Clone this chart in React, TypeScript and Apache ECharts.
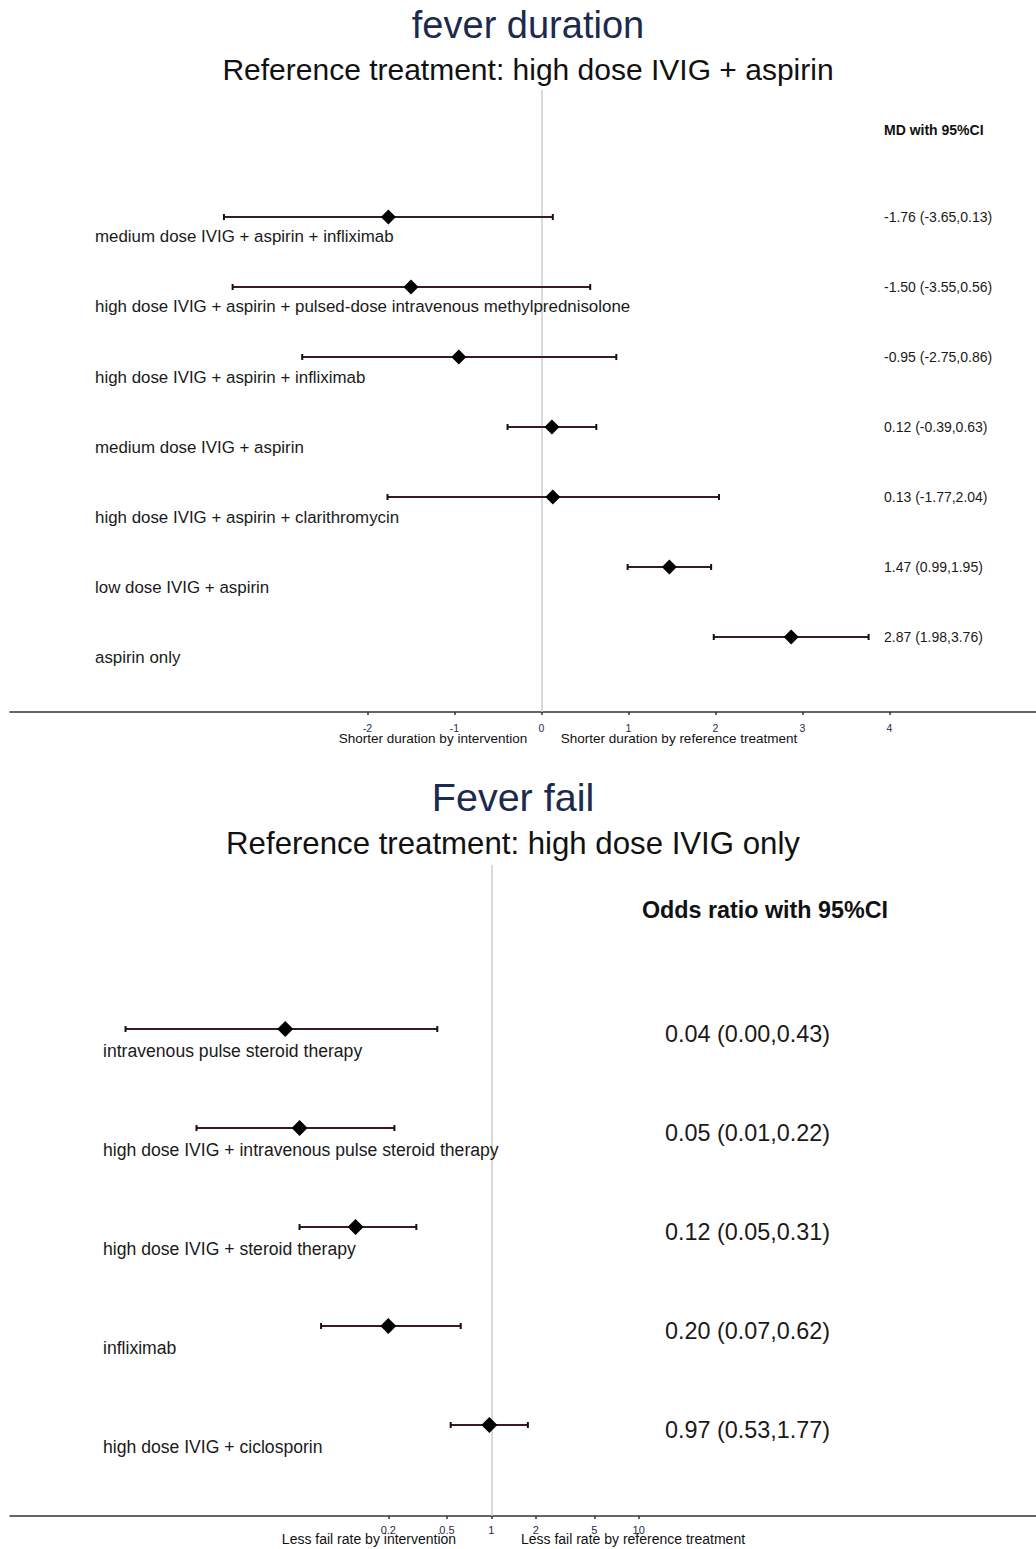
import { useEffect, useRef } from "react";
import * as echarts from "echarts";

// ---------- Data: fever duration (mean difference) ----------
const durationRows = [
  "medium dose IVIG + aspirin + infliximab",
  "high dose IVIG + aspirin + pulsed-dose intravenous methylprednisolone",
  "high dose IVIG + aspirin + infliximab",
  "medium dose IVIG + aspirin",
  "high dose IVIG + aspirin + clarithromycin",
  "low dose IVIG + aspirin",
  "aspirin only",
];
const durationMD = [-1.76, -1.5, -0.95, 0.12, 0.13, 1.47, 2.87];
const durationLow = [-3.65, -3.55, -2.75, -0.39, -1.77, 0.99, 1.98];
const durationHigh = [0.13, 0.56, 0.86, 0.63, 2.04, 1.95, 3.76];
const durationTicks = [-2, -1, 0, 1, 2, 3, 4];

// ---------- Data: fever fail (odds ratio) ----------
const failRows = [
  "intravenous pulse steroid therapy",
  "high dose IVIG + intravenous pulse steroid therapy",
  "high dose IVIG + steroid therapy",
  "infliximab",
  "high dose IVIG + ciclosporin",
];
const failOR = [0.04, 0.05, 0.12, 0.2, 0.97];
const failLow = [0.0033, 0.01, 0.05, 0.07, 0.53]; // first shown as 0.00
const failHigh = [0.43, 0.22, 0.31, 0.62, 1.77];
const failTicks = [0.2, 0.5, 1, 2, 5, 10];

const FONT = "'Liberation Sans', Arial, Helvetica, sans-serif";
const BAR = "#3b1a26";

const fmt = (v: number) => v.toFixed(2);

function makeRender(
  names: string[],
  est: number[],
  lo: number[],
  hi: number[],
  o: { labelX: number; labelDy: number; labelSize: number; valX: number; valDy: number; valSize: number; half: number }
) {
  return (params: any, api: any) => {
    const idx = params.dataIndex;
    const row = api.value(0);
    const pE = api.coord([api.value(1), row]);
    const pL = api.coord([api.value(2), row]);
    const pH = api.coord([api.value(3), row]);
    const y = pE[1];
    const h = o.half;
    return {
      type: "group",
      children: [
        { type: "line", shape: { x1: pL[0], y1: y, x2: pH[0], y2: y }, style: { stroke: BAR, lineWidth: 2 } },
        { type: "line", shape: { x1: pL[0], y1: y - 3, x2: pL[0], y2: y + 3 }, style: { stroke: "#111", lineWidth: 2 } },
        { type: "line", shape: { x1: pH[0], y1: y - 3, x2: pH[0], y2: y + 3 }, style: { stroke: "#111", lineWidth: 2 } },
        {
          type: "polygon",
          shape: { points: [[pE[0], y - h], [pE[0] + h, y], [pE[0], y + h], [pE[0] - h, y]] },
          style: { fill: "#000" },
        },
        {
          type: "text",
          x: o.labelX,
          y: y + o.labelDy,
          style: {
            text: names[idx],
            fontSize: o.labelSize,
            fontFamily: FONT,
            fill: "#1a1a1a",
            align: "left",
            verticalAlign: "middle",
          },
        },
        {
          type: "text",
          x: o.valX,
          y: y + o.valDy,
          style: {
            text: `${fmt(est[idx])} (${fmt(lo[idx])},${fmt(hi[idx])})`,
            fontSize: o.valSize,
            fontFamily: FONT,
            fill: "#1a1a1a",
            align: "left",
            verticalAlign: "middle",
          },
        },
      ],
    };
  };
}

function gtext(text: string, x: number, y: number, size: number, fill: string, weight: string = "normal", align: string = "center") {
  return {
    type: "text",
    x,
    y,
    silent: true,
    style: {
      text,
      fontSize: size,
      fontWeight: weight,
      fontFamily: FONT,
      fill,
      align,
      textAlign: align,
      verticalAlign: "middle",
      textVerticalAlign: "middle",
    },
  };
}

export default function App() {
  const ref = useRef<HTMLDivElement>(null);
  useEffect(() => {
    document.body.style.margin = "0";
    if (!ref.current) return;
    const chart = echarts.init(ref.current, undefined, { renderer: "svg" });

    const durData = durationRows.map((_, i) => [i, durationMD[i], durationLow[i], durationHigh[i]]);
    const failData = failRows.map((_, i) => [i, failOR[i], failLow[i], failHigh[i]]);

    const refLine = (x: number) => ({
      silent: true,
      symbol: "none",
      z: 1,
      label: { show: false },
      lineStyle: { color: "#cccccc", width: 1.5, type: "solid" },
      data: [{ xAxis: x }],
    });

    chart.setOption({
      animation: false,
      backgroundColor: "#ffffff",
      textStyle: { fontFamily: FONT },
      grid: [
        { left: 10, right: 0, top: 90, height: 622 },
        { left: 10, right: 0, top: 865, height: 651 },
      ],
      xAxis: [
        {
          type: "value",
          gridIndex: 0,
          min: -6.109,
          max: 5.684,
          splitLine: { show: false },
          axisLine: { show: true, onZero: false, lineStyle: { color: "#333", width: 1.5 } },
          axisTick: { show: true, customValues: durationTicks, length: 3, lineStyle: { color: "#333", width: 1.5 } },
          axisLabel: { customValues: durationTicks, fontSize: 10.5, color: "#1f2b4d", margin: 10, fontFamily: FONT },
        },
        {
          type: "log",
          logBase: 10,
          gridIndex: 1,
          min: 0.000543,
          max: 4955,
          splitLine: { show: false },
          axisLine: { show: true, onZero: false, lineStyle: { color: "#333", width: 1.5 } },
          axisTick: { show: true, customValues: failTicks, length: 3, lineStyle: { color: "#333", width: 1.5 } },
          axisLabel: { customValues: failTicks, fontSize: 11, color: "#1f2b4d", margin: 8, fontFamily: FONT },
        },
      ],
      yAxis: [
        { type: "value", gridIndex: 0, inverse: true, min: -1.814, max: 7.071, show: false },
        { type: "value", gridIndex: 1, inverse: true, min: -1.657, max: 4.919, show: false },
      ],
      series: [
        {
          type: "custom",
          xAxisIndex: 0,
          yAxisIndex: 0,
          encode: { x: [1, 2, 3], y: 0 },
          data: durData,
          renderItem: makeRender(durationRows, durationMD, durationLow, durationHigh, {
            labelX: 95,
            labelDy: 20,
            labelSize: 16.9,
            valX: 884,
            valDy: 0,
            valSize: 14,
            half: 7.5,
          }),
          markLine: refLine(0),
          z: 3,
        },
        {
          type: "custom",
          xAxisIndex: 1,
          yAxisIndex: 1,
          encode: { x: [1, 2, 3], y: 0 },
          data: failData,
          renderItem: makeRender(failRows, failOR, failLow, failHigh, {
            labelX: 103,
            labelDy: 22,
            labelSize: 17.6,
            valX: 665,
            valDy: 5,
            valSize: 23.4,
            half: 8,
          }),
          markLine: refLine(1),
          z: 3,
        },
      ],
      graphic: [
        gtext("fever duration", 528, 25, 38, "#1c2a4e"),
        gtext("Reference treatment: high dose IVIG + aspirin", 528, 69, 30, "#111"),
        gtext("MD with 95%CI", 884, 130, 14, "#111", "bold", "left"),
        gtext("Shorter duration by intervention", 433, 738, 13.5, "#111"),
        gtext("Shorter duration by reference treatment", 679, 738, 13.5, "#111"),
        gtext("Fever fail", 513, 797, 39.5, "#1c2a4e"),
        gtext("Reference treatment: high dose IVIG only", 513, 843, 31.2, "#111"),
        gtext("Odds ratio with 95%CI", 642, 910, 23.3, "#111", "bold", "left"),
        gtext("Less fail rate by intervention", 369, 1539, 14, "#111"),
        gtext("Less fail rate by reference treatment", 633, 1539, 14, "#111"),
      ],
    });
    return () => chart.dispose();
  }, []);
  return <div ref={ref} style={{ width: 1036, height: 1549 }} />;
}
